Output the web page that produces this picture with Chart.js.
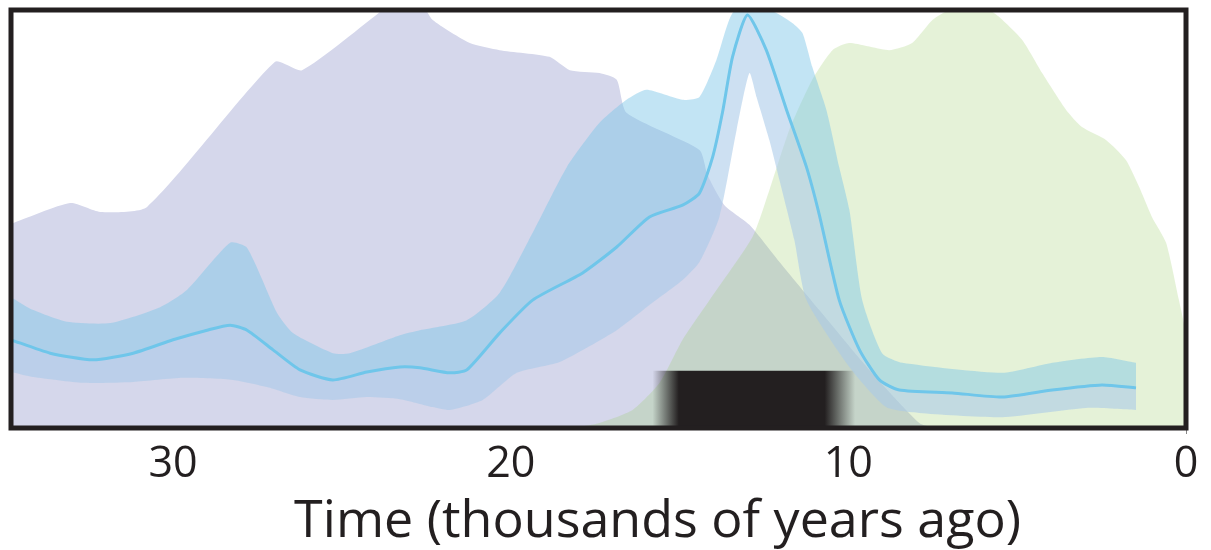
<!DOCTYPE html>
<html>
<head>
<meta charset="utf-8">
<script src="https://cdn.jsdelivr.net/npm/chart.js@4"></script>
<style>
  html, body { margin: 0; padding: 0; background: #fff; }
</style>
</head>
<body>
<canvas id="chart" width="1211" height="550"></canvas>
<script>
// time axis, thousands of years ago
const xTicks = [30, 20, 10, 0];
const axisTitle = 'Time (thousands of years ago)';

// purple distribution
const purpleAge = [34.8, 33.05, 32.16, 30.77, 26.98, 26.18, 23.79, 23.4, 22.7, 22.31, 21.21, 20.33, 18.85, 18.25, 17.37, 16.86, 16.57, 14.41, 14.17, 13.67, 12.93, 12.04, 10.86, 9.38, 7.9, 7.46];
const purpleVal = [48.8, 53.8, 51.7, 52.9, 87.6, 85.6, 100, 102, 102, 97.6, 92.1, 90.4, 88.8, 85.6, 84.9, 83.3, 75.4, 66.5, 60.5, 53.3, 48.6, 39.7, 28.2, 13.9, 1.2, 0];

// green distribution
const greenAge = [19.1, 18.05, 17.37, 16.39, 15.59, 14.91, 14.11, 12.84, 12.34, 11.75, 11.07, 10.47, 9.97, 8.79, 8.11, 7.51, 7.01, 6.27, 5.83, 5.53, 4.85, 4.26, 3.55, 3.08, 2.37, 1.78, 1.39, 1.01, 0.59, 0.21, 0];
const greenVal = [0, 0.2, 1.2, 4.3, 10.8, 21.1, 30.6, 45.7, 56.9, 71.3, 83.3, 90.4, 92.1, 90.4, 92.1, 97.6, 100, 100.5, 100, 98.3, 92.8, 84.9, 76.1, 72, 68.9, 64.1, 57.7, 50.5, 44.3, 30.6, 22.7];

// blue mean curve
const meanAge = [34.8, 33.64, 32.37, 31.18, 30.0, 28.99, 28.31, 27.81, 27.04, 26.24, 25.27, 24.26, 23.28, 22.69, 21.8, 21.3, 20.33, 19.35, 17.87, 16.86, 15.89, 14.91, 14.41, 14.02, 13.73, 13.43, 12.99, 12.43, 11.83, 11.24, 10.86, 10.27, 9.67, 9.08, 8.49, 6.92, 5.44, 3.96, 2.49, 1.48];
const meanVal = [21.1, 17.9, 16.3, 17.9, 21.1, 23.4, 24.6, 23.4, 18.7, 13.9, 11.5, 13.4, 14.6, 14.4, 13.2, 13.9, 22.7, 30.6, 37.1, 43.3, 50.5, 53.3, 56.2, 64.8, 75.4, 88.8, 98.8, 90.4, 76.1, 62.4, 51, 30.6, 18.7, 11.5, 9.1, 8.4, 7.4, 9.1, 10.3, 9.6];

// upper / lower edge of the blue band
const upperAge = [34.8, 34.14, 33.14, 31.86, 30.38, 29.59, 28.31, 27.81, 26.92, 26.45, 25.27, 24.76, 23.28, 22.69, 21.3, 20.33, 19.35, 18.34, 17.37, 16.57, 15.98, 14.91, 14.41, 13.91, 13.43, 12.78, 12.13, 11.66, 11.36, 11.07, 10.65, 10.27, 9.97, 9.59, 9.0, 8.4, 5.44, 3.96, 2.49, 1.48];
const upperVal = [31.3, 28.2, 25.4, 25.1, 28.9, 33, 44.3, 43.1, 27.5, 22.7, 17.9, 17.9, 22.2, 23.4, 25.8, 32.3, 46.7, 62.4, 73, 78.5, 80.9, 78.5, 79.2, 88, 99.3, 101, 99.3, 96.9, 94.5, 86.4, 76.1, 62.4, 52.2, 30.6, 17.9, 15.6, 13.2, 15.6, 17, 15.6];
const lowerAge = [34.8, 34.14, 32.66, 31.18, 29.7, 28.22, 27.22, 26.24, 25.27, 24.26, 23.28, 22.31, 21.8, 20.83, 19.82, 18.55, 16.86, 15.89, 14.91, 14.41, 13.82, 13.31, 12.93, 12.72, 12.34, 12.04, 11.6, 11.24, 9.97, 8.88, 7.9, 5.44, 2.96, 1.48];
const lowerVal = [13.4, 12.2, 10.8, 11, 12, 11.5, 9.8, 7.4, 6.7, 7.4, 6.9, 5, 4.3, 6.7, 13.2, 15.8, 23.4, 29.4, 35.4, 39.7, 50.5, 71.3, 84.9, 79.2, 68.9, 59.3, 45, 30.6, 14.6, 5, 3.6, 2.6, 4.8, 4.3];

// black bar with fuzzy ends
const barAge = [15.8, 9.8];
const barVal = [13.7, 13.7];

const toPoints = (xs, ys) => xs.map((x, i) => ({ x: x, y: ys[i] }));

const ink = '#231f20';

// fade the bar in and out along x
function barFill(context) {
  const chart = context.chart;
  const { ctx, chartArea, scales } = chart;
  if (!chartArea || !scales.x) return ink;
  const x0 = scales.x.getPixelForValue(barAge[0]);
  const x1 = scales.x.getPixelForValue(barAge[1]);
  const g = ctx.createLinearGradient(x0, 0, x1, 0);
  g.addColorStop(0, 'rgba(35,31,32,0)');
  g.addColorStop(0.13, 'rgba(35,31,32,1)');
  g.addColorStop(0.85, 'rgba(35,31,32,1)');
  g.addColorStop(1, 'rgba(35,31,32,0)');
  return g;
}

const framePlugin = {
  id: 'frame',
  afterDatasetsDraw(chart) {
    const { ctx, chartArea } = chart;
    ctx.save();
    ctx.strokeStyle = ink;
    ctx.lineWidth = 5;
    ctx.strokeRect(chartArea.left, chartArea.top, chartArea.right - chartArea.left, chartArea.bottom - chartArea.top);
    ctx.restore();
  }
};

const titlePlugin = {
  id: 'axisTitle',
  afterDraw(chart) {
    const { ctx, scales } = chart;
    ctx.save();
    ctx.font = '52px "Open Sans"';
    ctx.fillStyle = ink;
    ctx.textAlign = 'center';
    ctx.textBaseline = 'alphabetic';
    ctx.fillText(axisTitle, scales.x.getPixelForValue(15.65), 537);
    ctx.restore();
  }
};

const area = { pointRadius: 0, borderWidth: 0, tension: 0.2 };

new Chart(document.getElementById('chart'), {
  type: 'line',
  data: {
    datasets: [
      { ...area, label: 'purple', data: toPoints(purpleAge, purpleVal), fill: 'origin',
        backgroundColor: 'rgb(213,215,235)', order: 6 },
      { ...area, label: 'green', data: toPoints(greenAge, greenVal), fill: 'origin',
        backgroundColor: 'rgba(150,205,100,0.25)', order: 5 },
      { ...area, tension: 0, label: 'bar', data: toPoints(barAge, barVal), fill: 'origin',
        backgroundColor: barFill, order: 4 },
      { label: 'mean', data: toPoints(meanAge, meanVal), fill: false, pointRadius: 0,
        borderColor: '#6fc6ea', borderWidth: 3, tension: 0.2, order: 1 },
      { ...area, label: 'upper', data: toPoints(upperAge, upperVal), fill: 3,
        backgroundColor: 'rgba(125,198,232,0.47)', order: 3 },
      { ...area, label: 'lower', data: toPoints(lowerAge, lowerVal), fill: 3,
        backgroundColor: 'rgba(169,202,233,0.58)', order: 3 }
    ]
  },
  options: {
    responsive: false,
    animation: false,
    layout: { padding: { left: 11, top: 10, right: 25, bottom: 0 } },
    plugins: { legend: { display: false }, tooltip: { enabled: false } },
    scales: {
      x: {
        type: 'linear',
        reverse: true,
        min: 0,
        max: 34.8,
        border: { display: false },
        grid: {
          drawOnChartArea: false,
          drawTicks: true,
          tickLength: 6,
          color: ctx => (ctx.tick && ctx.tick.value === 0 ? '#888' : 'rgba(0,0,0,0)')
        },
        afterBuildTicks: axis => { axis.ticks = xTicks.map(v => ({ value: v })); },
        afterFit: scale => { scale.height = 122; },
        ticks: {
          autoSkip: false,
          maxRotation: 0,
          padding: 5,
          color: ink,
          font: { family: 'Open Sans', size: 43 }
        }
      },
      y: { display: false, min: 0, max: 100 }
    }
  },
  plugins: [framePlugin, titlePlugin]
});
</script>
</body>
</html>
